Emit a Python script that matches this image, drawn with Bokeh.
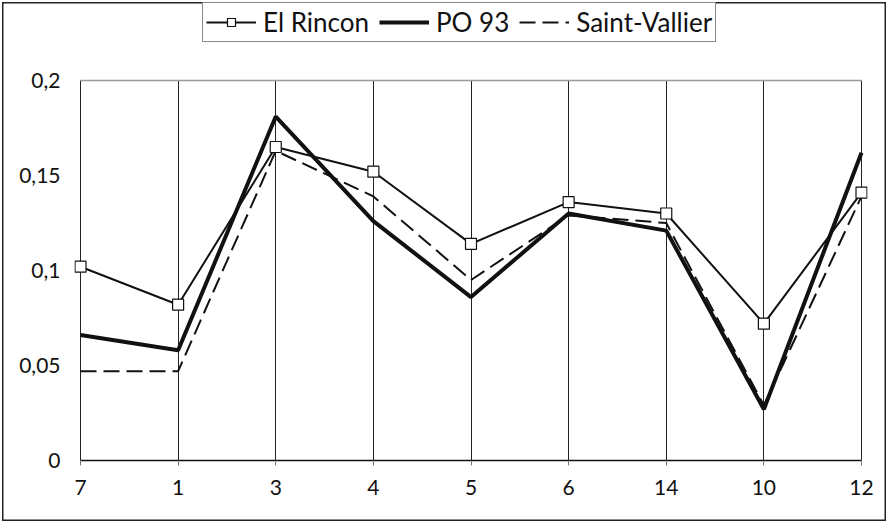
from bokeh.plotting import figure
from bokeh.models import Range1d, FixedTicker, Legend, LegendItem
from bokeh.embed import file_html
from bokeh.resources import INLINE

# Sites along the x axis and the value of each series at every site
sites = ["7", "1", "3", "4", "5", "6", "14", "10", "12"]
el_rincon = [0.102, 0.082, 0.165, 0.152, 0.114, 0.136, 0.130, 0.072, 0.141]
po_93 = [0.066, 0.058, 0.181, 0.126, 0.086, 0.130, 0.121, 0.027, 0.162]
saint_vallier = [0.047, 0.047, 0.163, 0.139, 0.095, 0.129, 0.125, 0.029, 0.139]

y_ticks = [0, 0.05, 0.1, 0.15, 0.2]
y_tick_labels = ["0", "0,05", "0,1", "0,15", "0,2"]

FONT = "Lato"
pos = list(range(len(sites)))
Y_MAX = 0.2

# The frame reaches the top of the canvas so the legend above the value
# area is drawn inside it; a few pixels of slack left/right keep the end
# markers whole.
PAD = 6 / 97.6
Y_TOP = Y_MAX * 460 / 380

p = figure(
    width=888, height=523,
    output_backend="svg", toolbar_location=None,
    x_range=Range1d(-PAD, len(sites) - 1 + PAD), y_range=Range1d(0, Y_TOP),
    min_border_left=74, min_border_right=21, min_border_top=0, min_border_bottom=63,
)
p.outline_line_color = None
p.background_fill_color = None
p.border_fill_color = None
# thin frame around the whole chart
p.styles = {
    "background-color": "white",
    "box-shadow": "inset 0 0 0 2px white, inset 0 0 0 3.5px #222",
}

# Vertical lines at every site, one horizontal line at the top value
p.xgrid.ticker = FixedTicker(ticks=pos)
p.xgrid.bounds = (-1, len(sites))
p.xgrid.cross_bounds = (0, Y_MAX)
p.xgrid.grid_line_color = "#222"
p.xgrid.grid_line_width = 1
p.ygrid.ticker = FixedTicker(ticks=[Y_MAX])
p.ygrid.bounds = (-1, 1)
p.ygrid.cross_bounds = (0, len(sites) - 1)
p.ygrid.grid_line_color = "#999"
p.ygrid.grid_line_width = 1.5

# X axis: site names
p.xaxis.ticker = FixedTicker(ticks=pos)
p.xaxis.bounds = (0, len(sites) - 1)
p.xaxis.major_label_overrides = {i: s for i, s in enumerate(sites)}
p.xaxis.axis_line_color = "#111"
p.xaxis.axis_line_width = 1.5
p.xaxis.major_tick_in = 0
p.xaxis.major_tick_out = 5
p.xaxis.major_tick_line_color = "#777"
p.xaxis.minor_tick_line_color = None
p.xaxis.major_label_standoff = 14
p.xaxis.major_label_text_font = FONT
p.xaxis.major_label_text_font_size = "21px"
p.xaxis.major_label_text_color = "#111"

# Y axis: decimal comma labels, no axis line
p.yaxis.ticker = FixedTicker(ticks=y_ticks)
p.yaxis.major_label_overrides = dict(zip(y_ticks, y_tick_labels))
p.yaxis.axis_line_color = None
p.yaxis.major_tick_line_color = None
p.yaxis.minor_tick_line_color = None
p.yaxis.major_label_standoff = 8
p.yaxis.major_label_text_font = FONT
p.yaxis.major_label_text_font_size = "21px"
p.yaxis.major_label_text_color = "#111"

# Series
sv = p.line(pos, saint_vallier, line_color="#111", line_width=2, line_dash="16 7")
po = p.line(pos, po_93, line_color="#111", line_width=4)
er_line = p.line(pos, el_rincon, line_color="#111", line_width=2)
er_mark = p.scatter(pos, el_rincon, marker="square", size=11,
                    fill_color="white", line_color="#111", line_width=1.2)

legend = Legend(
    items=[
        LegendItem(label="El Rincon", renderers=[er_line, er_mark]),
        LegendItem(label="PO 93", renderers=[po]),
        LegendItem(label="Saint-Vallier", renderers=[sv]),
    ],
    location=(128, 418),
    orientation="horizontal",
    margin=0,
    padding=3,
    spacing=10,
    glyph_width=50,
    glyph_height=20,
    label_standoff=7,
    label_text_font=FONT,
    label_text_font_size="26px",
    label_text_color="#111",
    border_line_color="#111",
    border_line_width=1,
    background_fill_color="white",
    background_fill_alpha=1,
)
p.add_layout(legend)

open("out.html", "w").write(file_html(p, INLINE))
